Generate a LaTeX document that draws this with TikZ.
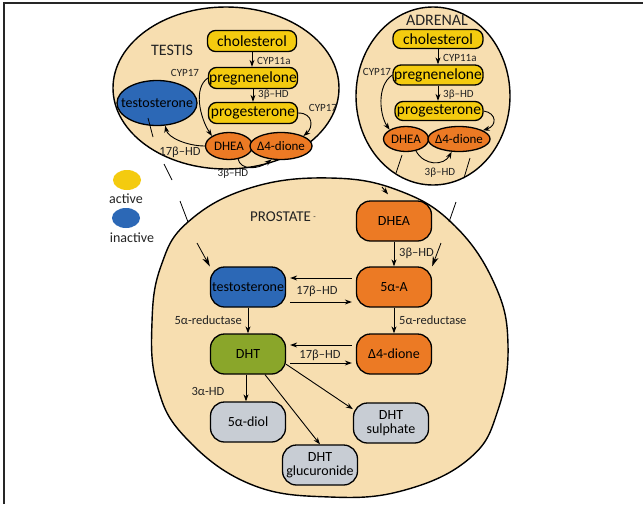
\documentclass[tikz,border=0pt]{standalone}
\usepackage{fontspec}
\setmainfont{Carlito}
\usetikzlibrary{arrows.meta,shapes.geometric}

\definecolor{tissue}{RGB}{247,222,176}
\definecolor{hormyellow}{RGB}{244,203,15}
\definecolor{hormorange}{RGB}{236,122,36}
\definecolor{hormblue}{RGB}{44,104,182}
\definecolor{hormgreen}{RGB}{138,166,42}
\definecolor{hormgrey}{RGB}{200,205,212}
\definecolor{inkgrey}{RGB}{35,35,35}

\begin{document}
\begin{tikzpicture}[x=1pt,y=-1pt,
	organ/.style={draw, line width=1.4pt, fill=tissue},
	ybox/.style={draw, line width=1.3pt, fill=hormyellow, rounded corners=8pt,
		minimum width=89pt, minimum height=21pt, inner sep=0pt,
		font=\fontsize{15.5}{17}\selectfont},
	obell/.style={ellipse, draw, line width=1.3pt, fill=hormorange, inner xsep=-2pt,
		inner ysep=0pt, minimum height=27pt, font=\fontsize{13}{15}\selectfont},
	pbox/.style={draw, line width=1.3pt, rounded corners=14pt,
		minimum width=75pt, minimum height=40pt, inner sep=0pt, align=center,
		font=\fontsize{14}{14.5}\selectfont},
	lbl/.style={text=inkgrey, inner sep=1pt, font=\fontsize{12.5}{14}\selectfont},
	small/.style={text=inkgrey, inner sep=1pt, font=\fontsize{11}{13}\selectfont},
	title/.style={text=inkgrey, font=\fontsize{16}{18}\selectfont},
	conv/.style={-{Stealth[length=7pt,width=5pt]}, line width=0.9pt},
	carry/.style={line width=0.8pt},
	carryhead/.style={-{Stealth[length=10pt,width=6pt,inset=3pt]}, line width=0.8pt},
]

\useasboundingbox (0,0) rectangle (643,504);
\fill[white] (0,0) rectangle (643,504);
\draw[line width=1.5pt, black!85] (4,504) |- (643,3);

% organs
\draw[organ] (226,88) ellipse [x radius=113pt, y radius=81pt];
\draw[organ] (433,96) ellipse [x radius=77pt, y radius=89pt];
\draw[organ] plot[smooth cycle, tension=0.7] coordinates {
	(330,178) (400,191) (455,226) (495,285) (508,345) (498,410)
	(470,458) (405,490) (330,497) (250,484) (185,437) (157,385)
	(152,322) (161,266) (188,222) (250,188)};

% testis
\node[title] (testis) at (172,50) {TESTIS};
\node[ybox] (tchol) at (252,41) {cholesterol};
\node[ybox] (tpreg) at (253,78) {pregnenelone};
\node[ybox] (tprog) at (253,113) {progesterone};
\node[ellipse, draw, line width=1.3pt, fill=hormblue, inner xsep=-12pt, inner ysep=0pt,
	minimum width=80pt, minimum height=45pt, font=\fontsize{14}{16}\selectfont]
	(ttesto) at (157,103) {testosterone};
\node[obell, minimum width=47pt] (tdhea) at (229,146) {DHEA};
\node[obell, minimum width=58pt] (tdione) at (281,146) {Δ4-dione};

\draw[conv] (tchol.south) -- (tchol.south |- tpreg.north);
\draw[conv] (tpreg.south) -- (tpreg.south |- tprog.north);
\draw[conv] (tpreg.west) .. controls (193,88) and (200,118) .. (tdhea.north west);
\draw[conv] (tprog.east) .. controls (314,113) and (313,128) .. (tdione.north east);
\draw[conv] (tdhea.west) .. controls (188,146) and (168,138) .. (ttesto.-70);
\draw[conv] (tdhea.-55) .. controls (240,170) and (258,170) .. (tdione.-125);

\node[small, anchor=west] (tcyp11) at (256,61) {CYP11a};
\node[small] (tcyp17a) at (185,73) {CYP17};
\node[small, anchor=west] (thd3a) at (257,95) {3β–HD};
\node[small] (tcyp17b) at (323,108) {CYP17};
\node[lbl] (thd17) at (180,152) {17β–HD};
\node[small] (thd3b) at (233,174) {3β–HD};

% adrenal
\node[title] (adrenal) at (437,20) {ADRENAL};
\node[ybox, minimum width=90pt, minimum height=19pt] (achol) at (438,39) {cholesterol};
\node[ybox, minimum width=90pt, minimum height=20pt] (apreg) at (438,75) {pregnenelone};
\node[ybox, minimum width=88pt, minimum height=19pt] (aprog) at (439,111) {progesterone};
\node[obell, minimum width=45pt, minimum height=25pt] (adhea) at (406,139) {DHEA};
\node[obell, minimum width=58pt, minimum height=25pt] (adione) at (459,139) {Δ4-dione};

\draw[conv] (achol.south) -- (achol.south |- apreg.north);
\draw[conv] (apreg.south) -- (apreg.south |- aprog.north);
\draw[conv] (apreg.west) .. controls (376,86) and (380,116) .. (adhea.north west);
\draw[conv] (aprog.east) .. controls (497,113) and (497,126) .. (adione.20);
\draw[conv] (adhea.-50) .. controls (424,166) and (444,166) .. (adione.-120);

\node[small, anchor=west] (acyp11) at (442,58) {CYP11a};
\node[small] (acyp17) at (377,72) {CYP17};
\node[small, anchor=west] (ahd3a) at (442,95) {3β–HD};
\node[small] (ahd3b) at (440,173) {3β–HD};

% legend
\node[ellipse, fill=hormyellow, minimum width=28pt, minimum height=20pt] (keyact) at (127,180) {};
\node[lbl, font=\fontsize{14}{15}\selectfont] (keyacttxt) at (126,199) {active};
\node[ellipse, fill=hormblue, minimum width=28pt, minimum height=20pt] (keyinact) at (126,218) {};
\node[lbl, font=\fontsize{14}{15}\selectfont] (keyinacttxt) at (132,238) {inactive};

% prostate
\node[title, font=\fontsize{15}{17}\selectfont] (prostate) at (283,217) {PROSTATE\,\raisebox{2pt}{\fontsize{8}{8}\selectfont -}};
\node[pbox, fill=hormorange] (pdhea) at (394,221) {DHEA};
\node[pbox, fill=hormorange] (pfiveA) at (394,287) {5α-A};
\node[pbox, fill=hormblue] (ptesto) at (248,287) {testosterone};
\node[pbox, fill=hormgreen] (pdht) at (248,354) {DHT};
\node[pbox, fill=hormorange] (pdione) at (394,354) {Δ4-dione};
\node[pbox, fill=hormgrey] (pdiol) at (248,422) {5α-diol};
\node[pbox, fill=hormgrey] (psulph) at (391,423) {DHT\\sulphate};
\node[pbox, fill=hormgrey] (pgluc) at (320,465) {DHT\\glucuronide};

\draw[conv] (pdhea) -- (pfiveA);
\draw[conv] ([xshift=-4pt,yshift=9pt]pfiveA.west) -- ([xshift=4pt,yshift=9pt]ptesto.east);
\draw[conv] ([xshift=4pt,yshift=-15pt]ptesto.east) -- ([xshift=-4pt,yshift=-15pt]pfiveA.west);
\draw[conv] (ptesto) -- (pdht);
\draw[conv] (pfiveA) -- (pdione);
\draw[conv] ([xshift=-4pt,yshift=9pt]pdione.west) -- ([xshift=4pt,yshift=9pt]pdht.east);
\draw[conv] ([xshift=4pt,yshift=-9pt]pdht.east) -- ([xshift=-4pt,yshift=-9pt]pdione.west);
\draw[conv] ([xshift=-2pt]pdht.south) -- ([xshift=-2pt]pdiol.north);
\draw[conv] ([xshift=17pt]pdht.south) -- (pgluc.north);
\draw[conv] (pdht.-15) -- (psulph.160);

\node[lbl, anchor=west] (phd3) at (398,253) {3β–HD};
\node[lbl] (phd17a) at (317,291) {17β–HD};
\node[lbl, anchor=east] (pred1) at (243,320) {5α-reductase};
\node[lbl, anchor=west] (pred2) at (398,320) {5α-reductase};
\node[lbl] (phd17b) at (320,355) {17β–HD};
\node[lbl] (phd3a) at (208,391) {3α-HD};

% hormones carried into the prostate
\coordinate (tc1) at (148,118);
\coordinate (tc2) at (153,137);
\coordinate (tc3) at (164,164);
\coordinate (tc4) at (172,180);
\coordinate (tc5) at (180,201);
\coordinate (tc6) at (188,222);
\coordinate (tc7) at (197,243);
\draw[carry] (tc1) -- (tc2);
\draw[carry] (tc3) -- (tc4);
\draw[carry] (tc5) -- (tc6);
\draw[carryhead] (tc7) -- (ptesto.north west);

\coordinate (ad1) at (402,155);
\coordinate (ad2) at (396,173);
\coordinate (ad3) at (382,187);
\draw[carry] (ad1) -- (ad2);
\draw[conv] (ad3) -- ([xshift=-6pt,yshift=6pt]pdhea.north);

\coordinate (ac1) at (470,158);
\coordinate (ac2) at (464,178);
\coordinate (ac3) at (456,202);
\coordinate (ac4) at (449,222);
\coordinate (ac5) at (441,243);
\draw[carry] (ac1) -- (ac2);
\draw[carry] (ac3) -- (ac4);
\draw[carryhead] (ac5) -- (pfiveA.north east);

\end{tikzpicture}
\end{document}
